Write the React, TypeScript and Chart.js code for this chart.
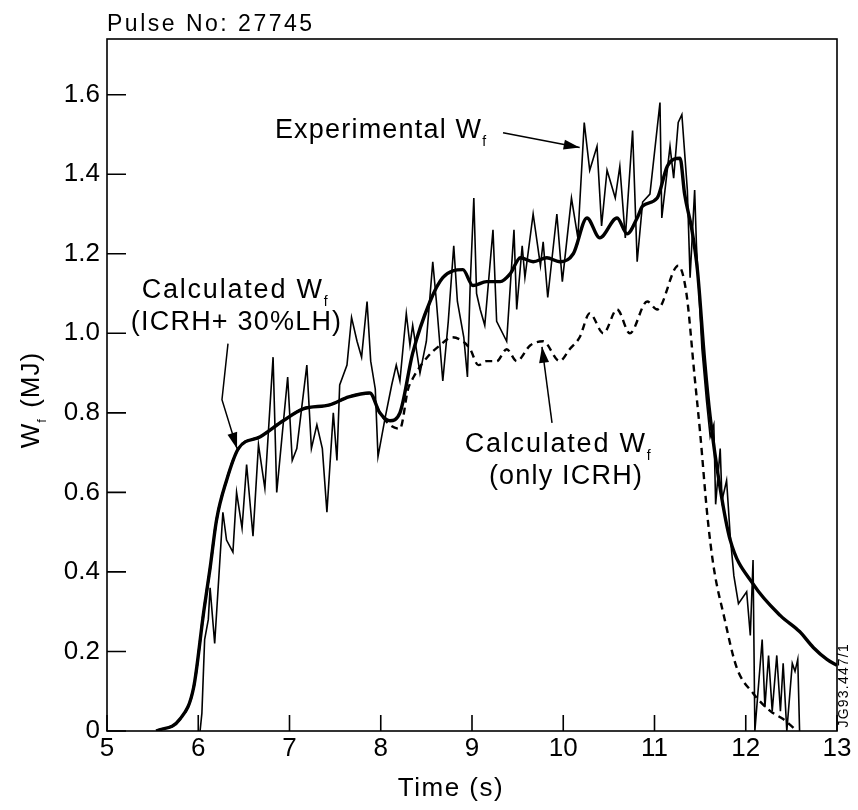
import React, { useEffect, useRef } from "react";
import { Chart, registerables } from "chart.js";

Chart.register(...registerables);

const FONT = '"Liberation Sans", Arial, Helvetica, sans-serif';

// Axis ticks
const xTickValues = [5, 6, 7, 8, 9, 10, 11, 12, 13];
const yTickValues = [0, 0.2, 0.4, 0.6, 0.8, 1.0, 1.2, 1.4, 1.6];

// Experimental W_f (thin noisy trace)
const expTime = [
  6.02, 6.04, 6.07, 6.11, 6.13, 6.18, 6.27, 6.31, 6.38, 6.42, 6.48, 6.53, 6.6, 6.66, 6.73, 6.82, 6.86, 6.98,
  7.03, 7.08, 7.19, 7.24, 7.3, 7.36, 7.41, 7.48, 7.52, 7.55, 7.63, 7.68, 7.74, 7.79, 7.85, 7.89, 7.94, 7.97,
  8.05, 8.12, 8.17, 8.21, 8.28, 8.32, 8.35, 8.43, 8.5, 8.57, 8.61, 8.68, 8.74, 8.8, 8.84, 8.91, 8.95, 8.98,
  9.02, 9.05, 9.09, 9.14, 9.23, 9.27, 9.38, 9.46, 9.49, 9.55, 9.58, 9.67, 9.75, 9.78, 9.83, 9.93, 9.99,
  10.09, 10.16, 10.23, 10.29, 10.37, 10.42, 10.48, 10.57, 10.62, 10.68, 10.76, 10.81, 10.87, 10.95, 11.06,
  11.08, 11.17, 11.21, 11.26, 11.3, 11.36, 11.39, 11.44, 11.46, 11.52, 11.57, 11.61, 11.65, 11.67, 11.72,
  11.74, 11.79, 11.83, 11.87, 11.92, 12.01, 12.05, 12.08, 12.1, 12.18, 12.21, 12.25, 12.29, 12.34, 12.38,
  12.41, 12.45, 12.51, 12.54, 12.57, 12.59,
];
const expW = [
  0.0, 0.045, 0.23, 0.28, 0.36, 0.22, 0.55, 0.48, 0.45, 0.6, 0.51, 0.67, 0.49, 0.72, 0.61, 0.94, 0.6, 0.89,
  0.68, 0.71, 0.92, 0.71, 0.77, 0.71, 0.55, 0.8, 0.68, 0.87, 0.92, 1.04, 0.98, 0.94, 1.08, 0.93, 0.86, 0.69,
  0.79, 0.87, 0.92, 0.88, 1.05, 0.97, 1.02, 0.9, 0.98, 1.18, 1.08, 0.88, 1.03, 1.22, 1.08, 0.99, 0.89, 1.12,
  1.34, 1.1, 1.06, 1.02, 1.26, 1.03, 0.98, 1.26, 1.06, 1.22, 1.14, 1.3, 1.17, 1.23, 1.09, 1.3, 1.13,
  1.34, 1.24, 1.53, 1.41, 1.47, 1.27, 1.41, 1.34, 1.42, 1.24, 1.51, 1.18, 1.33, 1.35, 1.58,
  1.29, 1.47, 1.39, 1.53, 1.55, 1.36, 1.14, 1.36, 1.22, 0.96, 0.83, 0.74, 0.77, 0.57, 0.71,
  0.58, 0.63, 0.49, 0.39, 0.32, 0.35, 0.24, 0.43, 0.0, 0.23, 0.06, 0.19, 0.05, 0.19, 0.05,
  0.17, 0.0, 0.17, 0.15, 0.18, 0.0,
];

// Calculated W_f (ICRH + 30% LH), thick solid
const lhTime = [
  5.54, 5.8, 5.95, 6.06, 6.13, 6.2, 6.31, 6.44, 6.68, 6.93, 7.15, 7.44, 7.65, 7.88, 7.99, 8.1, 8.21, 8.35,
  8.54, 8.68, 8.9, 9.01, 9.16, 9.31, 9.42, 9.53, 9.67, 9.82, 9.96, 10.11, 10.26, 10.4, 10.59, 10.7, 10.81,
  10.87, 11.03, 11.14, 11.28, 11.33, 11.41, 11.47, 11.55, 11.61, 11.72, 11.83, 12.08, 12.38, 12.59, 12.74,
  12.89, 13.0,
];
const lhW = [
  0.0, 0.03, 0.11, 0.3, 0.41, 0.53, 0.63, 0.71, 0.74, 0.78, 0.81, 0.82, 0.84, 0.85, 0.8, 0.78, 0.8, 0.95,
  1.08, 1.14, 1.16, 1.12, 1.13, 1.13, 1.15, 1.19, 1.18, 1.19, 1.18, 1.2, 1.29, 1.24, 1.29, 1.25, 1.29,
  1.32, 1.34, 1.42, 1.44, 1.35, 1.26, 1.16, 0.93, 0.79, 0.61, 0.48, 0.37, 0.29, 0.25, 0.21,
  0.18, 0.165,
];

// Calculated W_f (only ICRH), dashed
const icrhTime = [
  5.54, 5.8, 5.95, 6.06, 6.13, 6.2, 6.31, 6.44, 6.68, 6.93, 7.15, 7.44, 7.65, 7.88, 7.99, 8.1, 8.21, 8.3,
  8.36, 8.51, 8.65, 8.78, 8.9, 8.98, 9.07, 9.16, 9.27, 9.38, 9.49, 9.64, 9.78, 9.96, 10.07, 10.18, 10.29,
  10.44, 10.59, 10.73, 10.92, 11.03, 11.26, 11.35, 11.44, 11.5, 11.58, 11.65, 11.76, 11.9, 12.08, 12.27,
  12.41, 12.49, 12.56,
];
const icrhW = [
  0.0, 0.03, 0.11, 0.3, 0.41, 0.53, 0.63, 0.71, 0.74, 0.78, 0.81, 0.82, 0.84, 0.85, 0.8, 0.77, 0.76, 0.86,
  0.89, 0.94, 0.97, 0.99, 0.98, 0.96, 0.92, 0.93, 0.93, 0.96, 0.93, 0.97, 0.98, 0.93, 0.96, 0.99, 1.05,
  1.0, 1.06, 1.0, 1.08, 1.06, 1.17, 1.1, 0.89, 0.75, 0.54, 0.41, 0.29, 0.16, 0.095, 0.05,
  0.03, 0.015, 0.0,
];

const toPoints = (xs: number[], ys: number[]) => xs.map((x, i) => ({ x, y: ys[i] }));

function setSpacing(ctx: any, px: number) {
  try {
    ctx.letterSpacing = `${px}px`;
  } catch (e) {
    /* ignore */
  }
}

function drawWf(
  ctx: CanvasRenderingContext2D,
  prefix: string,
  suffix: string,
  x: number,
  y: number,
  size: number,
  align: "left" | "center",
  spacing: number
) {
  const main = `${size}px ${FONT}`;
  const sub = `${Math.round(size * 0.5)}px ${FONT}`;
  setSpacing(ctx, spacing);
  ctx.font = main;
  const w1 = ctx.measureText(prefix).width;
  ctx.font = sub;
  const w2 = ctx.measureText("f").width;
  ctx.font = main;
  const w3 = suffix ? ctx.measureText(suffix).width : 0;
  const total = w1 + w2 + 2 + w3;
  const sx = align === "center" ? x - total / 2 : x;
  ctx.textAlign = "left";
  ctx.textBaseline = "middle";
  ctx.font = main;
  ctx.fillText(prefix, sx, y);
  ctx.font = sub;
  ctx.fillText("f", sx + w1, y + size * 0.42);
  if (suffix) {
    ctx.font = main;
    ctx.fillText(suffix, sx + w1 + w2 + 2, y);
  }
  setSpacing(ctx, 0);
}

function drawText(ctx: CanvasRenderingContext2D, text: string, x: number, y: number, size: number, spacing: number) {
  setSpacing(ctx, spacing);
  ctx.font = `${size}px ${FONT}`;
  ctx.textAlign = "center";
  ctx.textBaseline = "middle";
  ctx.fillText(text, x, y);
  setSpacing(ctx, 0);
}

function drawArrow(ctx: CanvasRenderingContext2D, pts: [number, number][]) {
  ctx.beginPath();
  ctx.moveTo(pts[0][0], pts[0][1]);
  for (let i = 1; i < pts.length; i++) ctx.lineTo(pts[i][0], pts[i][1]);
  ctx.lineWidth = 1.5;
  ctx.stroke();
  const [ex, ey] = pts[pts.length - 1];
  const [px, py] = pts[pts.length - 2];
  const ang = Math.atan2(ey - py, ex - px);
  const L = 16;
  const W = 5;
  ctx.beginPath();
  ctx.moveTo(ex, ey);
  ctx.lineTo(ex - L * Math.cos(ang) + W * Math.sin(ang), ey - L * Math.sin(ang) - W * Math.cos(ang));
  ctx.lineTo(ex - L * Math.cos(ang) - W * Math.sin(ang), ey - L * Math.sin(ang) + W * Math.cos(ang));
  ctx.closePath();
  ctx.fill();
}

const decorPlugin = {
  id: "decor",
  afterDatasetsDraw(chart: any) {
    const { ctx, chartArea: a, scales } = chart;
    const xs = scales.x;
    const ys = scales.y;
    const P = (t: number, w: number): [number, number] => [xs.getPixelForValue(t), ys.getPixelForValue(w)];
    ctx.save();
    ctx.strokeStyle = "#000";
    ctx.fillStyle = "#000";
    ctx.lineWidth = 1.6;
    ctx.strokeRect(a.left, a.top, a.right - a.left, a.bottom - a.top);
    ctx.beginPath();
    xTickValues.forEach((v) => {
      const px = xs.getPixelForValue(v);
      ctx.moveTo(px, a.bottom);
      ctx.lineTo(px, a.bottom - 16);
    });
    yTickValues.forEach((v) => {
      const py = ys.getPixelForValue(v);
      ctx.moveTo(a.left, py);
      ctx.lineTo(a.left + 19, py);
    });
    ctx.stroke();

    // Title
    setSpacing(ctx, 2.5);
    ctx.font = `23px ${FONT}`;
    ctx.textAlign = "left";
    ctx.textBaseline = "alphabetic";
    ctx.fillText("Pulse No: 27745", a.left, 31);
    setSpacing(ctx, 0);

    // X axis title
    drawText(ctx, "Time (s)", 451, 789, 26, 1.5);

    // Y axis title
    ctx.save();
    ctx.translate(32, 400);
    ctx.rotate(-Math.PI / 2);
    drawWf(ctx, "W", " (MJ)", 0, 0, 26, "center", 1);
    ctx.restore();

    // Annotations
    const e = P(6.84, 1.51);
    drawWf(ctx, "Experimental W", "", e[0], e[1], 27, "left", 1.2);
    drawArrow(ctx, [P(9.34, 1.504), P(10.18, 1.467)]);

    const c1 = P(6.42, 1.108);
    drawWf(ctx, "Calculated W", "", c1[0], c1[1], 27, "center", 1.8);
    const c2 = P(6.42, 1.028);
    drawText(ctx, "(ICRH+ 30%LH)", c2[0], c2[1], 27, 1.2);
    drawArrow(ctx, [P(6.326, 0.974), P(6.26, 0.833), P(6.425, 0.71)]);

    const d1 = P(9.96, 0.72);
    drawWf(ctx, "Calculated W", "", d1[0], d1[1], 27, "center", 1.8);
    const d2 = P(10.03, 0.64);
    drawText(ctx, "(only ICRH)", d2[0], d2[1], 27, 1.2);
    drawArrow(ctx, [P(9.877, 0.775), P(9.767, 0.966)]);

    // Figure code
    ctx.save();
    ctx.translate(a.right + 7, ys.getPixelForValue(0.115));
    ctx.rotate(-Math.PI / 2);
    drawText(ctx, "JG93.447/1", 0, 0, 14, 1.2);
    ctx.restore();

    ctx.restore();
  },
};

export default function App() {
  const ref = useRef<HTMLCanvasElement | null>(null);
  useEffect(() => {
    if (!ref.current) return;
    const chart = new Chart(ref.current, {
      type: "line",
      data: {
        datasets: [
          {
            label: "Calculated (only ICRH)",
            data: toPoints(icrhTime, icrhW),
            borderColor: "#000",
            borderWidth: 2.4,
            borderDash: [7, 5],
            pointRadius: 0,
            cubicInterpolationMode: "monotone",
            fill: false,
          },
          {
            label: "Calculated (ICRH+30%LH)",
            data: toPoints(lhTime, lhW),
            borderColor: "#000",
            borderWidth: 3.4,
            pointRadius: 0,
            cubicInterpolationMode: "monotone",
            fill: false,
          },
          {
            label: "Experimental",
            data: toPoints(expTime, expW),
            borderColor: "#000",
            borderWidth: 1.6,
            pointRadius: 0,
            tension: 0,
            fill: false,
          },
        ],
      },
      options: {
        responsive: false,
        animation: false,
        devicePixelRatio: 1,
        layout: { padding: { top: 39, right: 21, left: 0, bottom: 0 } },
        plugins: { legend: { display: false }, title: { display: false }, tooltip: { enabled: false } },
        scales: {
          x: {
            type: "linear",
            min: 5,
            max: 13,
            grid: { display: false, drawTicks: false },
            border: { display: false },
            afterBuildTicks: (s: any) => {
              s.ticks = xTickValues.map((v) => ({ value: v }));
            },
            afterFit: (s: any) => {
              s.height = 79;
            },
            ticks: {
              padding: 2,
              color: "#000",
              font: { family: FONT, size: 26 },
              maxRotation: 0,
              autoSkip: false,
              callback: (v: any) => String(v),
            },
          },
          y: {
            type: "linear",
            min: 0,
            max: 1.74,
            grid: { display: false, drawTicks: false },
            border: { display: false },
            afterBuildTicks: (s: any) => {
              s.ticks = yTickValues.map((v) => ({ value: v }));
            },
            afterFit: (s: any) => {
              s.width = 107;
            },
            ticks: {
              padding: 7,
              color: "#000",
              font: { family: FONT, size: 26 },
              autoSkip: false,
              callback: (v: any) => (v === 0 ? "0" : Number(v).toFixed(1)),
            },
          },
        },
      },
      plugins: [decorPlugin],
    });
    return () => chart.destroy();
  }, []);
  return (
    <div style={{ position: "absolute", left: 0, top: 0, width: 858, height: 810, background: "#fff" }}>
      <canvas ref={ref} width={858} height={810} style={{ width: 858, height: 810 }} />
    </div>
  );
}
